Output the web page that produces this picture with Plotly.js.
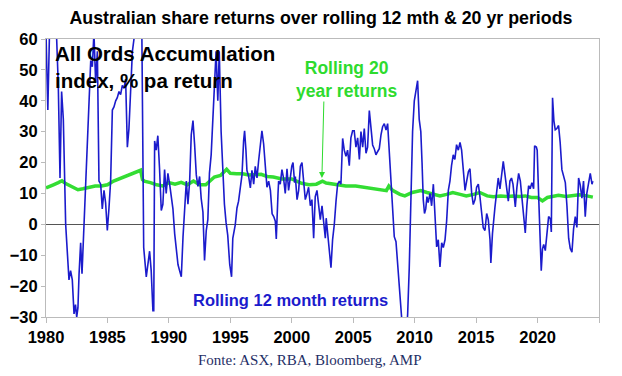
<!DOCTYPE html>
<html>
<head>
<meta charset="utf-8">
<script src="https://cdn.plot.ly/plotly-3.0.1.min.js"></script>
<style>html,body{margin:0;padding:0;background:#fff;}#chart{width:622px;height:376px;}</style>
</head>
<body>
<div id="chart"></div>
<script>
// Rolling 12 month returns (% pa), decimal year
const years12 = [1980.0,1980.15,1980.3,1980.5,1980.7,1980.85,1981.0,1981.14,1981.27,1981.41,1981.6,1981.75,1981.87,1982.0,1982.14,1982.28,1982.4,1982.5,1982.6,1982.69,1982.82,1982.93,1983.04,1983.23,1983.5,1983.64,1983.77,1983.9,1984.04,1984.18,1984.31,1984.45,1984.58,1984.72,1984.85,1984.99,1985.12,1985.26,1985.4,1985.53,1985.67,1985.8,1985.94,1986.07,1986.21,1986.35,1986.48,1986.62,1986.75,1986.89,1987.03,1987.16,1987.3,1987.5,1987.7,1987.8,1987.89,1987.95,1988.16,1988.3,1988.43,1988.56,1988.7,1988.77,1988.84,1988.97,1989.1,1989.24,1989.38,1989.51,1989.65,1989.78,1989.92,1990.06,1990.2,1990.33,1990.47,1990.6,1990.74,1990.87,1991.01,1991.15,1991.28,1991.42,1991.55,1991.69,1991.82,1991.96,1992.09,1992.23,1992.36,1992.5,1992.63,1992.77,1992.9,1993.04,1993.17,1993.3,1993.44,1993.57,1993.71,1993.84,1993.98,1994.1,1994.25,1994.38,1994.52,1994.65,1994.79,1994.95,1995.1,1995.2,1995.4,1995.54,1995.67,1995.81,1995.95,1996.08,1996.16,1996.27,1996.35,1996.49,1996.63,1996.76,1996.9,1997.03,1997.17,1997.3,1997.44,1997.57,1997.71,1997.85,1997.98,1998.12,1998.26,1998.4,1998.53,1998.66,1998.74,1998.88,1998.93,1999.06,1999.2,1999.33,1999.47,1999.61,1999.74,1999.88,2000.0,2000.1,2000.23,2000.29,2000.43,2000.56,2000.7,2000.83,2000.97,2001.1,2001.24,2001.37,2001.51,2001.64,2001.78,2001.91,2002.05,2002.19,2002.32,2002.46,2002.59,2002.73,2002.8,2002.92,2003.05,2003.19,2003.32,2003.46,2003.6,2003.73,2003.87,2004.0,2004.14,2004.27,2004.41,2004.54,2004.68,2004.81,2004.95,2005.08,2005.22,2005.36,2005.5,2005.63,2005.77,2005.9,2006.04,2006.17,2006.31,2006.44,2006.58,2006.71,2006.85,2006.98,2007.12,2007.26,2007.39,2007.53,2007.67,2007.8,2007.93,2008.07,2008.2,2008.34,2008.48,2008.61,2008.75,2008.89,2009.0,2009.16,2009.3,2009.43,2009.56,2009.7,2009.83,2009.97,2010.1,2010.24,2010.37,2010.5,2010.6,2010.7,2010.8,2010.9,2011.0,2011.1,2011.25,2011.38,2011.52,2011.65,2011.79,2011.92,2012.06,2012.2,2012.33,2012.47,2012.6,2012.74,2012.87,2013.0,2013.14,2013.27,2013.41,2013.55,2013.69,2013.82,2013.96,2014.1,2014.23,2014.37,2014.5,2014.64,2014.77,2014.91,2015.04,2015.18,2015.31,2015.45,2015.58,2015.72,2015.86,2015.99,2016.13,2016.2,2016.33,2016.53,2016.67,2016.8,2016.94,2017.08,2017.21,2017.35,2017.48,2017.62,2017.75,2017.88,2018.0,2018.12,2018.19,2018.32,2018.46,2018.6,2018.73,2018.87,2019.0,2019.13,2019.27,2019.4,2019.54,2019.68,2019.76,2019.9,2019.97,2020.1,2020.2,2020.3,2020.4,2020.5,2020.63,2020.77,2020.9,2021.04,2021.12,2021.22,2021.33,2021.44,2021.57,2021.71,2021.84,2021.98,2022.12,2022.26,2022.39,2022.53,2022.66,2022.8,2022.93,2023.07,2023.2,2023.34,2023.47,2023.61,2023.74,2023.88,2024.01,2024.15,2024.29,2024.43,2024.5];
const ret12 = [62,37,65,75,70,62,45,15,43,34,0,-12,-18,-15,-18,-29,-26,-30,-27,-16,-6,-16,-5,16,40,53,51,62,46,56,14,13,5,11,7,-2,5,14,37,38,40,41,43,42,45,44,47,25,31,45,56,60,70,80,85,62,-3,-7.5,-17,-12,-8.7,-15,-28,-28,27,24,28.7,18,4.5,6.5,17.7,10,16.5,13,8.3,5,-3,-7.5,-13,-15,-17,-4,5.4,14,6.5,14,29,33.6,26,16,12.3,15.5,8.3,4,-11.7,-2,1.5,16.5,22.5,34.7,48.7,56,40,56,30,17.5,6.5,0.7,-3.6,-13,-17,-4.5,-0.2,5.3,7.5,11.8,16,27,30.3,24,17.5,15.5,11.8,17.5,13,18.8,15,20.5,25,30.3,26,18.8,12,14,11,3.4,2.5,1,-4.7,10,14,13,17.7,15,10,18,11,15,18.8,20,13.5,15.5,8,11,18.8,20,12,8,10,12,6,8,-4.5,9,11,6,1.5,6,-0.5,-4.5,2,-3,-6.3,-14,-5,0,7.5,13,14,13,27.8,24,22,24,19,28,30.3,30.3,25,28,21,30,25,31,23,25,36.8,30,25.7,24.5,22.5,23.5,24.5,29,31.6,32.6,30.5,32.6,23,14,3.5,-4,-5.6,-14,-20.4,-30,-38,-42,-38,-29,-14,5,30,40,43.3,46.5,34,30,20,8,3.5,5,9,7,10,6,13,2,-7.3,-5,-13.8,-6,-7.5,-5,1,11,14,19,22.5,21,25.8,24,26.5,24,17,11,14,17,18,10,6.4,8,12,13,9,4.5,-1.1,-2,3.5,1.5,-5,-12.5,-3,5.4,10,15,11.5,16,20.4,16,11,7.5,14,15,13,8,5.6,12,16.5,14,8,0.5,-2.8,6,12.5,11.5,13.5,11.5,25.4,25,24,8,-5,-15,-8,-6.5,-8.5,-3,2.5,1.8,-2.5,41,33.5,30.6,31,32,26.5,17.7,15.5,13.5,6,-4.5,-7.8,-9,-1.5,2.5,-1,15,12.8,8.5,14,2.5,10,14,16.5,13,14];

// Rolling 20 year returns (% pa)
const years20 = [1980.0,1980.3,1980.6,1981.0,1981.3,1981.6,1981.9,1982.3,1982.6,1983.0,1983.5,1984.0,1984.5,1985.0,1985.5,1986.0,1986.5,1987.0,1987.4,1987.7,1987.85,1988.0,1988.5,1989.0,1989.5,1990.0,1990.5,1991.0,1991.5,1992.0,1992.5,1993.0,1993.7,1994.2,1994.7,1995.0,1995.5,1996.0,1996.5,1997.0,1997.5,1998.0,1998.5,1999.2,2000.0,2000.8,2001.4,2002.0,2002.5,2002.8,2003.6,2004.4,2005.2,2006.0,2006.9,2007.7,2007.9,2008.2,2008.8,2009.2,2009.8,2010.5,2011.0,2011.5,2012.06,2012.6,2013.1,2013.7,2014.2,2014.8,2015.3,2015.9,2016.4,2017.0,2017.5,2018.0,2018.5,2019.0,2019.5,2020.0,2020.4,2020.8,2021.7,2022.3,2022.8,2023.4,2023.9,2024.5];
const ret20 = [11.8,12.2,12.8,13.5,14.1,13.2,12.6,11.8,11.2,11.5,12.0,12.4,12.4,12.8,14.0,14.8,15.5,16.5,17.0,17.5,14.5,14.0,13.5,12.8,12.4,13.5,13.0,13.6,12.8,14.0,12.8,12.8,15.3,15.8,17.8,16.5,16.4,16.4,16.0,16.0,16.2,15.5,15.3,14.7,14.7,13.3,12.8,13.0,14.0,13.4,12.8,12.4,12.4,12.0,11.5,10.9,12.4,11.0,9.7,9.2,10.3,10.9,10.3,9.7,9.2,9.7,10.3,9.7,9.2,9.7,10.3,9.2,8.9,9.2,9.0,9.2,9.0,9.2,8.7,8.7,7.6,8.7,9.4,9.0,9.2,9.6,9.3,8.8];

const xTickVals = [1980,1985,1990,1995,2000,2005,2010,2015,2020,2025];
const xTickText = ['1980','1985','1990','1995','2000','2005','2010','2015','2020',''];
const yTickVals = [-30,-20,-10,0,10,20,30,40,50,60];

const BLUE = '#1b1bcc';
const GREEN = '#33dd33';
const boldFont = 'Liberation Sans, Arial, sans-serif';

const traces = [
  {x: years20, y: ret20, type: 'scatter', mode: 'lines', line: {color: GREEN, width: 3.5}, hoverinfo: 'skip'},
  {x: years12, y: ret12, type: 'scatter', mode: 'lines', line: {color: BLUE, width: 1.6}, hoverinfo: 'skip'}
];

const layout = {
  width: 622, height: 376,
  margin: {l: 46, r: 23, t: 39, b: 59},
  paper_bgcolor: '#fff', plot_bgcolor: '#fff',
  showlegend: false,
  title: {text: 'Australian share returns over rolling 12 mth & 20 yr periods',
          font: {family: boldFont, size: 17.8, color: '#000', weight: 'bold'},
          xref: 'container', yref: 'container', x: 0.516, xanchor: 'center', y: 0.952, yanchor: 'middle'},
  xaxis: {range: [1980, 2025], tickvals: xTickVals, ticktext: xTickText, showgrid: false, zeroline: false,
          showline: true, linecolor: '#bbb', linewidth: 1, mirror: true,
          ticks: 'outside', ticklen: 5, tickcolor: '#bbb',
          tickfont: {family: boldFont, size: 16.5, color: '#000', weight: 'bold'}},
  yaxis: {range: [-30, 60], tickvals: yTickVals, showgrid: false,
          zeroline: true, zerolinecolor: '#555', zerolinewidth: 1,
          showline: true, linecolor: '#bbb', linewidth: 1, mirror: true,
          ticks: 'outside', ticklen: 4, tickcolor: '#bbb',
          tickfont: {family: boldFont, size: 16.5, color: '#000', weight: 'bold'}},
  annotations: [
    {xref: 'paper', yref: 'paper', x: 0.012, y: 0.995, xanchor: 'left', yanchor: 'top', align: 'left',
     text: 'All Ords Accumulation<br>index, % pa return', showarrow: false,
     font: {family: boldFont, size: 20.5, color: '#000', weight: 'bold'}},
    {xref: 'paper', yref: 'paper', x: 0.5425, y: 0.855, xanchor: 'center', yanchor: 'middle', align: 'center',
     text: 'Rolling 20<br>year returns', showarrow: false,
     font: {family: boldFont, size: 17.5, color: '#2edb2e', weight: 'bold'}},
    {xref: 'x', yref: 'y', x: 2002.45, y: 15, ax: 2, ay: -78, showarrow: true, text: '',
     arrowcolor: '#2edb2e', arrowwidth: 1, arrowhead: 2, arrowsize: 1.2},
    {xref: 'paper', yref: 'paper', x: 0.443, y: 0.061, xanchor: 'center', yanchor: 'middle',
     text: 'Rolling 12 month returns', showarrow: false,
     font: {family: boldFont, size: 16.5, color: BLUE, weight: 'bold'}},
    {xref: 'paper', yref: 'paper', x: 0.477, y: -0.155, xanchor: 'center', yanchor: 'middle',
     text: 'Fonte: ASX, RBA, Bloomberg, AMP', showarrow: false,
     font: {family: 'Liberation Serif, Times New Roman, serif', size: 15, color: '#1f2f66'}}
  ]
};

Plotly.newPlot('chart', traces, layout, {staticPlot: true, displayModeBar: false});
</script>
</body>
</html>
